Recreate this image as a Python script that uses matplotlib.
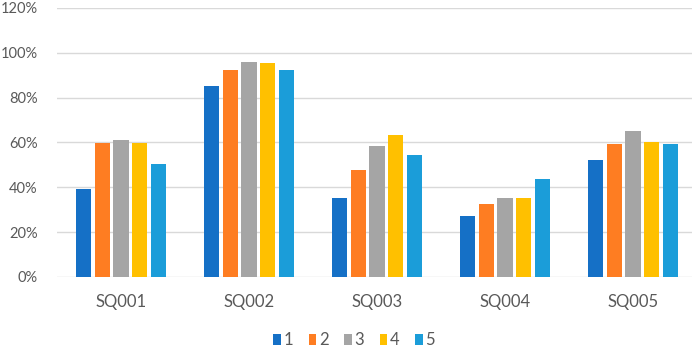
import numpy as np
import matplotlib
matplotlib.use('Agg')
import matplotlib.pyplot as plt
from matplotlib.ticker import PercentFormatter

categories = ["SQ001", "SQ002", "SQ003", "SQ004", "SQ005"]
series_names = ["1", "2", "3", "4", "5"]
s1 = [0.394, 0.850, 0.353, 0.271, 0.523]
s2 = [0.600, 0.924, 0.476, 0.326, 0.592]
s3 = [0.611, 0.959, 0.585, 0.353, 0.652]
s4 = [0.600, 0.953, 0.632, 0.353, 0.604]
s5 = [0.504, 0.922, 0.544, 0.435, 0.592]
colors = ["#1570C6", "#FE7D22", "#A5A5A5", "#FFC000", "#1B9DD9"]

plt.rcParams['font.family'] = ['Lato', 'DejaVu Sans']

fig = plt.figure(figsize=(6.92, 3.47), dpi=100)
ax = fig.add_axes([57/692, 70/347, 640/692, 269/347])

x = np.arange(len(categories))
slot = 0.146
width = 0.118
for i, vals in enumerate([s1, s2, s3, s4, s5]):
    ax.bar(x + (i - 2) * slot, vals, width, color=colors[i], label=series_names[i], zorder=3)

ax.set_xlim(-0.5, 4.5)
ax.set_ylim(0, 1.2)
ax.set_yticks(np.arange(0, 1.21, 0.2))
ax.yaxis.set_major_formatter(PercentFormatter(1.0, decimals=0))
ax.set_xticks(x)
ax.set_xticklabels(categories)
ax.grid(axis='y', color='#D9D9D9', linewidth=1, zorder=0)
for s in ax.spines.values():
    s.set_visible(False)
ax.tick_params(length=0, labelsize=12, colors='#595959', pad=12)
ax.tick_params(axis='y', labelsize=10.5, pad=14)

ax.legend(loc='center', bbox_to_anchor=(354/692, 1 - 340/347), bbox_transform=fig.transFigure,
          ncol=5, frameon=False, fontsize=12, handlelength=0.45, handleheight=0.65,
          handletextpad=0.15, columnspacing=0.95, labelcolor='#595959')

fig.savefig("out.png", dpi=100)
